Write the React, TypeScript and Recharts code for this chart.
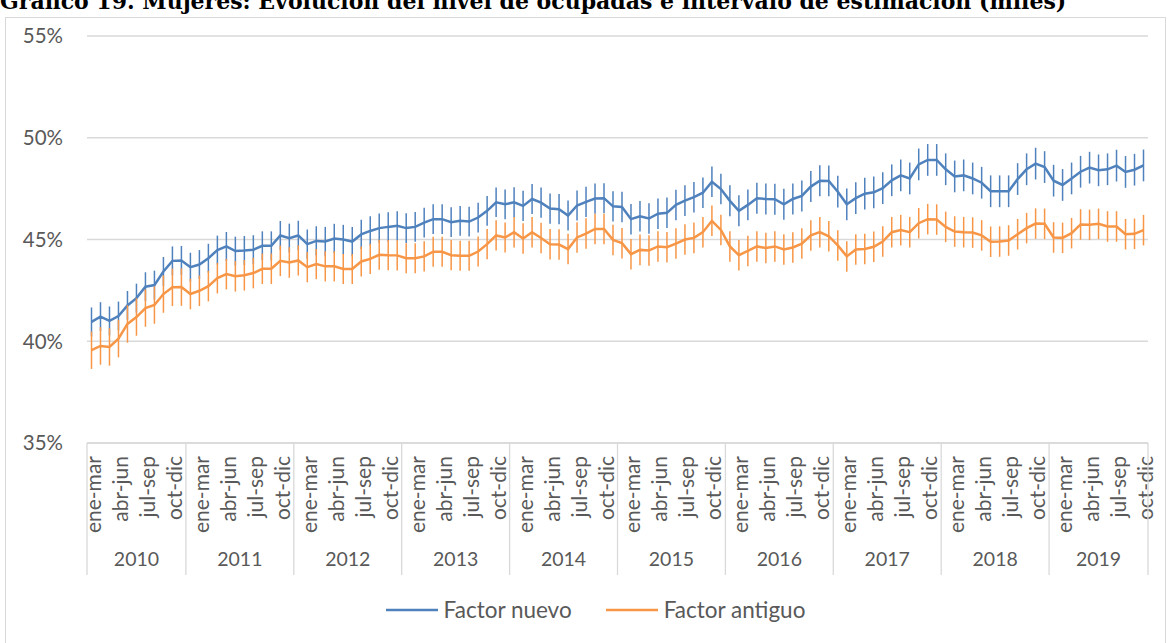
import React from "react";
import { CartesianGrid, ErrorBar, Legend, Line, LineChart, XAxis, YAxis } from "recharts";

const anios = [2010, 2011, 2012, 2013, 2014, 2015, 2016, 2017, 2018, 2019];
// trimestres móviles; 2010 y 2019 están incompletos
const puntosPorAnio = [11, 12, 12, 12, 12, 12, 12, 12, 12, 11];
const periodos = [
  "ene-mar", "feb-abr", "mar-may", "abr-jun", "may-jul", "jun-ago",
  "jul-sep", "ago-oct", "sep-nov", "oct-dic", "nov-ene", "dic-feb",
];

const factorNuevo = [
  40.95, 41.21, 41.0, 41.24, 41.76, 42.12, 42.68, 42.76, 43.43, 43.95, 43.97,
  43.64, 43.77, 44.08, 44.48, 44.66, 44.43, 44.46, 44.5, 44.69, 44.69, 45.2, 45.07,
  45.2, 44.77, 44.93, 44.9, 45.05, 45.0, 44.9, 45.25, 45.42, 45.56, 45.62, 45.67,
  45.56, 45.62, 45.83, 46.0, 46.0, 45.85, 45.92, 45.88, 46.08, 46.41, 46.83, 46.73,
  46.83, 46.65, 46.99, 46.81, 46.52, 46.49, 46.18, 46.67, 46.85, 47.01, 47.03, 46.63,
  46.6, 46.0, 46.14, 46.03, 46.27, 46.31, 46.7, 46.91, 47.08, 47.3, 47.84, 47.48,
  46.9, 46.41, 46.7, 47.03, 46.99, 46.98, 46.73, 46.99, 47.14, 47.6, 47.89, 47.88,
  47.35, 46.73, 47.03, 47.25, 47.32, 47.52, 47.91, 48.15, 48.0, 48.69, 48.91, 48.91,
  48.45, 48.1, 48.15, 48.0, 47.79, 47.37, 47.37, 47.37, 47.97, 48.45, 48.73, 48.56,
  47.89, 47.68, 48.0, 48.33, 48.53, 48.4, 48.45, 48.63, 48.32, 48.43, 48.64,
];

const factorAntiguo = [
  39.56, 39.77, 39.72, 40.13, 40.85, 41.19, 41.63, 41.78, 42.32, 42.65, 42.66,
  42.32, 42.48, 42.71, 43.1, 43.3, 43.19, 43.24, 43.35, 43.56, 43.56, 43.95, 43.87,
  43.97, 43.64, 43.79, 43.68, 43.68, 43.55, 43.55, 43.92, 44.05, 44.25, 44.23, 44.22,
  44.08, 44.08, 44.17, 44.4, 44.4, 44.23, 44.2, 44.2, 44.41, 44.77, 45.2, 45.1,
  45.36, 45.05, 45.36, 45.07, 44.77, 44.75, 44.53, 45.1, 45.29, 45.52, 45.52, 44.98,
  44.82, 44.28, 44.49, 44.46, 44.66, 44.62, 44.8, 45.0, 45.08, 45.36, 45.92, 45.47,
  44.66, 44.23, 44.44, 44.66, 44.58, 44.66, 44.51, 44.61, 44.8, 45.2, 45.36, 45.16,
  44.71, 44.17, 44.51, 44.53, 44.64, 44.9, 45.36, 45.46, 45.36, 45.8, 46.0, 45.98,
  45.62, 45.39, 45.36, 45.34, 45.2, 44.89, 44.9, 44.95, 45.26, 45.56, 45.78, 45.77,
  45.1, 45.08, 45.31, 45.74, 45.72, 45.77, 45.64, 45.64, 45.26, 45.28, 45.46,
];

// semiamplitud del intervalo de estimación (puntos porcentuales), por año
const errNuevo = [0.71, 0.71, 0.72, 0.73, 0.74, 0.75, 0.76, 0.78, 0.78, 0.78];
const errAntiguo = [0.92, 0.75, 0.74, 0.74, 0.75, 0.75, 0.75, 0.75, 0.75, 0.75];

const yTicks = [35, 40, 45, 50, 55];

const AZUL = "#4F81BD";
const NARANJA = "#F79646";
const GRIS = "#D9D9D9";
const TEXTO = "#595959";
const FUENTE = "Lato, 'Open Sans', sans-serif";

type Fila = { i: number; periodo: string; anio: number; nuevo: number; antiguo: number; errN: number; errA: number };

const data: Fila[] = [];
const tickTipo = new Map<number, { tipo: string; texto?: string }>();
{
  let i = 0;
  anios.forEach((anio, k) => {
    tickTipo.set(i - 0.5, { tipo: "borde" });
    const inicio = i;
    for (let j = 0; j < puntosPorAnio[k]; j++) {
      data.push({
        i,
        periodo: periodos[i % 12],
        anio,
        nuevo: factorNuevo[i],
        antiguo: factorAntiguo[i],
        errN: errNuevo[k],
        errA: errAntiguo[k],
      });
      if (i % 3 === 0) tickTipo.set(i, { tipo: "periodo", texto: periodos[i % 12] });
      i++;
    }
    tickTipo.set((inicio - 0.5 + i - 0.5) / 2, { tipo: "anio", texto: String(anio) });
  });
  tickTipo.set(i - 0.5, { tipo: "borde" });
}
const xTicks = Array.from(tickTipo.keys()).sort((a, b) => a - b);

const EjeX = (props: any) => {
  const { x, y, payload } = props;
  const t = tickTipo.get(payload.value);
  if (!t) return null;
  if (t.tipo === "borde") {
    return <line x1={x} x2={x} y1={y} y2={y + 132} stroke={GRIS} strokeWidth={1.3} />;
  }
  if (t.tipo === "anio") {
    return (
      <text x={x} y={y + 115} textAnchor="middle" dominantBaseline="central" fill={TEXTO} fontSize={19.5} fontFamily={FUENTE}>
        {t.texto}
      </text>
    );
  }
  return (
    <text
      x={x + 1}
      y={y + 13}
      transform={`rotate(-90, ${x + 1}, ${y + 13})`}
      textAnchor="end"
      dominantBaseline="central"
      fill={TEXTO}
      fontSize={21}
      fontFamily={FUENTE}
    >
      {t.texto}
    </text>
  );
};

const Leyenda = () => (
  <div style={{ display: "flex", justifyContent: "center", alignItems: "center", fontFamily: FUENTE, fontSize: 22.5, color: TEXTO }}>
    {[
      { nombre: "Factor nuevo", color: AZUL },
      { nombre: "Factor antiguo", color: NARANJA },
    ].map((s, k) => (
      <div key={s.nombre} style={{ display: "flex", alignItems: "center", marginLeft: k ? 34 : 0 }}>
        <svg width={52} height={4} style={{ marginRight: 6 }}>
          <line x1={0} x2={52} y1={2} y2={2} stroke={s.color} strokeWidth={2.5} />
        </svg>
        <span>{s.nombre}</span>
      </div>
    ))}
  </div>
);

export default function App() {
  return (
    <div style={{ position: "absolute", left: 0, top: 0, width: 1169, height: 643, overflow: "hidden", background: "#fff" }}>
      <svg width={1169} height={20} style={{ position: "absolute", left: 0, top: 0 }}>
        <text x={0} y={9} fontFamily="'DejaVu Serif', serif" fontWeight="bold" fontSize={22} fill="#000">
          Gráfico 19. Mujeres: Evolución del nivel de ocupadas e intervalo de estimación (miles)
        </text>
      </svg>
      <div style={{ position: "absolute", left: 5, top: 17, width: 1159, height: 700, border: `1px solid ${GRIS}` }} />
      <div style={{ position: "absolute", left: 0, top: 0 }}>
        <LineChart width={1169} height={643} data={data} margin={{ top: 36, right: 21, bottom: 65, left: 0 }}>
          <CartesianGrid vertical={false} stroke={GRIS} strokeWidth={1.3} />
          <XAxis
            dataKey="i"
            type="number"
            domain={[-0.5, 117.5]}
            ticks={xTicks}
            interval={0}
            allowDecimals
            height={135}
            tickSize={0}
            tickMargin={0}
            tickLine={false}
            axisLine={{ stroke: GRIS, strokeWidth: 1.3 }}
            tick={<EjeX />}
          />
          <YAxis
            domain={[35, 55]}
            ticks={yTicks}
            width={87}
            axisLine={false}
            tickLine={false}
            tickSize={0}
            tickMargin={24}
            tickFormatter={(v: number) => `${v}%`}
            tick={{ fill: TEXTO, fontSize: 20.5, fontFamily: FUENTE }}
          />
          <Line dataKey="nuevo" name="Factor nuevo" stroke={AZUL} strokeWidth={2.5} dot={false} isAnimationActive={false}>
            <ErrorBar dataKey="errN" direction="y" width={0} stroke={AZUL} strokeWidth={1.5} isAnimationActive={false} />
          </Line>
          <Line dataKey="antiguo" name="Factor antiguo" stroke={NARANJA} strokeWidth={2.5} dot={false} isAnimationActive={false}>
            <ErrorBar dataKey="errA" direction="y" width={0} stroke={NARANJA} strokeWidth={1.5} isAnimationActive={false} />
          </Line>
          <Legend
            layout="horizontal"
            verticalAlign="middle"
            align="center"
            wrapperStyle={{ top: 596, left: 0, width: 1191 }}
            content={<Leyenda />}
          />
        </LineChart>
      </div>
    </div>
  );
}
